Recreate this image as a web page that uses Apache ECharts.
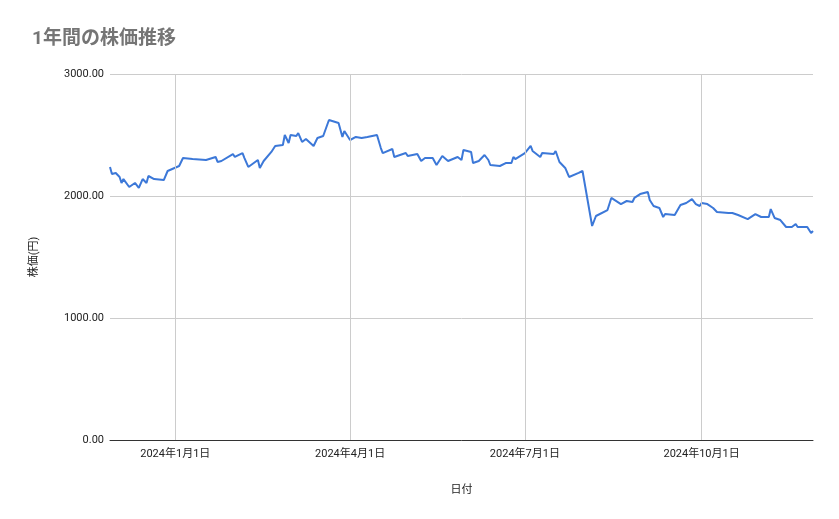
<!DOCTYPE html>
<html>
<head>
<meta charset="utf-8">
<script src="https://cdn.jsdelivr.net/npm/echarts@6/dist/echarts.min.js"></script>
<style>html,body{margin:0;padding:0;background:#fff}#chart{width:839px;height:519px}</style>
</head>
<body>
<div id="chart"></div>
<script>
// data: days from 2024-01-01 and price (円)
var dayOffsets = [-34, -33, -31, -29, -28, -27, -24, -21, -19, -17, -15, -14, -11, -10, -6, -4, -3, 2, 4, 9, 16, 21, 22, 24, 30, 31, 35, 36, 38, 43, 44, 46, 50, 52, 56, 57, 59, 60, 63, 64, 66, 68, 72, 74, 77, 80, 85, 87, 88, 91, 94, 97, 100, 105, 107, 108, 113, 114, 120, 121, 126, 128, 130, 134, 136, 139, 142, 147, 149, 150, 154, 155, 158, 161, 163, 164, 165, 169, 172, 175, 176, 177, 182, 185, 186, 190, 191, 197, 198, 200, 203, 205, 210, 211, 212, 217, 219, 220, 225, 227, 232, 235, 238, 239, 242, 246, 247, 249, 252, 254, 255, 260, 263, 266, 269, 271, 273, 274, 277, 280, 282, 288, 290, 293, 298, 302, 305, 309, 310, 312, 315, 318, 321, 323, 324, 329, 331, 332];
var prices = [2238, 2180, 2189, 2156, 2107, 2139, 2074, 2107, 2066, 2139, 2107, 2164, 2139, 2148, 2131, 2205, 2189, 2246, 2311, 2303, 2295, 2320, 2279, 2287, 2344, 2320, 2352, 2311, 2238, 2295, 2230, 2287, 2361, 2410, 2418, 2500, 2434, 2500, 2492, 2516, 2443, 2467, 2410, 2475, 2492, 2623, 2598, 2484, 2533, 2459, 2484, 2475, 2484, 2500, 2393, 2352, 2385, 2320, 2352, 2328, 2344, 2287, 2311, 2311, 2254, 2328, 2287, 2320, 2295, 2377, 2361, 2270, 2287, 2336, 2295, 2254, 2270, 2246, 2270, 2270, 2320, 2303, 2352, 2410, 2369, 2320, 2352, 2344, 2369, 2279, 2230, 2156, 2189, 2180, 2205, 1754, 1836, 1828, 1885, 1984, 1934, 1959, 1951, 1984, 2016, 2033, 1967, 1918, 1902, 1828, 1852, 1844, 1926, 1943, 1975, 1934, 1918, 1943, 1934, 1902, 1869, 1861, 1861, 1844, 1811, 1852, 1828, 1828, 1893, 1820, 1803, 1746, 1746, 1770, 1746, 1746, 1697, 1713];
var tickDays = [0, 91, 182, 274];
var tickLabels = ['2024年1月1日', '2024年4月1日', '2024年7月1日', '2024年10月1日'];

var chart = echarts.init(document.getElementById('chart'));
var font = 'Roboto, "Noto Sans CJK JP", sans-serif';

var option = {
  animation: false,
  title: {
    text: '1年間の株価推移', left: 27, top: 25,
    textStyle: { color: '#757575', fontSize: 19, fontWeight: 'bold', fontFamily: font }
  },
  grid: { left: 110, right: 26, top: 74, bottom: 79 },
  xAxis: {
    type: 'value', min: -34, max: 332,
    name: '日付', nameLocation: 'middle', nameGap: 45,
    nameTextStyle: { color: '#222', fontSize: 11, fontFamily: font },
    axisLine: { lineStyle: { color: '#333' } },
    axisTick: { show: false },
    splitLine: { show: false },
    axisLabel: {
      customValues: tickDays, color: '#222', fontSize: 11, fontFamily: font, margin: 9,
      formatter: function (v) { return tickLabels[tickDays.indexOf(v)] || ''; }
    }
  },
  yAxis: {
    type: 'value', min: 0, max: 3000, interval: 1000,
    name: '株価(円)', nameLocation: 'middle', nameGap: 70,
    nameTextStyle: { color: '#222', fontSize: 11, fontFamily: font },
    axisLine: { show: false }, axisTick: { show: false },
    splitLine: { lineStyle: { color: '#cccccc' } },
    axisLabel: { color: '#222', fontSize: 11, fontFamily: font, margin: 6,
      formatter: function (v) { return v.toFixed(2); } }
  },
  series: [{
    type: 'line', showSymbol: false,
    data: dayOffsets.map(function (d, i) { return [d, prices[i]]; }),
    lineStyle: { color: '#3c78d8', width: 2 },
    itemStyle: { color: '#3c78d8' },
    markLine: {
      silent: true, symbol: 'none', label: { show: false },
      lineStyle: { color: '#cccccc', type: 'solid', width: 1 },
      data: tickDays.map(function (d) { return { xAxis: d }; })
    }
  }]
};
chart.setOption(option);
</script>
</body>
</html>
